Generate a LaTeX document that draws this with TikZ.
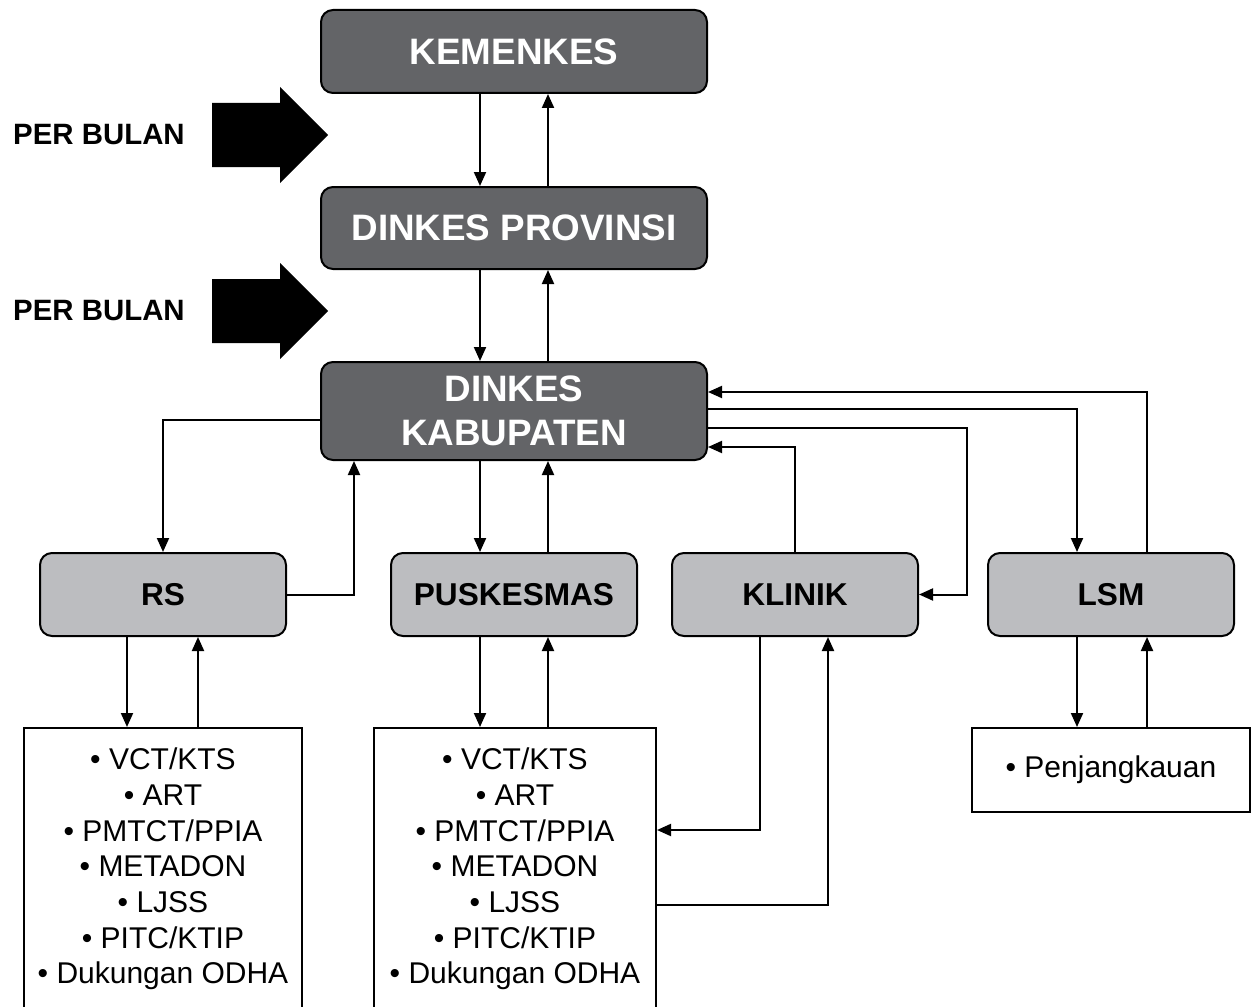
\documentclass[tikz,border=0pt]{standalone}
\usepackage{fontspec}
\setmainfont{Liberation Sans}
\usetikzlibrary{arrows.meta}
\definecolor{gelap}{HTML}{636467}
\definecolor{terang}{HTML}{BCBDC0}
\begin{document}
\begin{tikzpicture}[
  x=0.5pt, y=-0.5pt,
  pusat/.style={draw, line width=1pt, rounded corners=6pt, fill=gelap, text=white, inner sep=0pt,
    minimum width=193pt, align=center, font=\bfseries\fontsize{18.4}{22}\selectfont},
  unitbox/.style={draw, line width=1pt, rounded corners=6pt, fill=terang, inner sep=0pt,
    minimum width=123pt, minimum height=41.5pt, font=\bfseries\fontsize{15.8}{19}\selectfont},
  layanan/.style={draw, line width=1pt, fill=white, inner sep=0pt, align=center,
    font=\fontsize{15}{17.85}\selectfont},
  panah/.style={-{Triangle[length=7pt,width=6pt]}, line width=1pt}
]
  \useasboundingbox (0,0) rectangle (1252,1006);

  % Tingkat pusat, provinsi, kabupaten
  \node[pusat, minimum height=41.5pt] (kemenkes) at (514,51.5) {KEMENKES};
  \node[pusat, minimum height=41pt] (provinsi) at (514,228) {DINKES PROVINSI};
  \node[pusat, minimum height=49pt] (kabupaten) at (514,411) {DINKES\\KABUPATEN};

  % Laporan per bulan
  \foreach \c/\n in {135/a, 311/b} {
    \fill (212,\c-32) -- (280,\c-32) -- (280,\c-48) -- (328,\c) -- (280,\c+48) -- (280,\c+32) -- (212,\c+32) -- cycle;
    \node[font=\bfseries\fontsize{14.7}{17}\selectfont] (bulan\n) at (99,\c) {PER BULAN};
  }

  % Unit layanan
  \node[unitbox] (rs) at (163,594.5) {RS};
  \node[unitbox] (puskesmas) at (514,594.5) {PUSKESMAS};
  \node[unitbox] (klinik) at (795,594.5) {KLINIK};
  \node[unitbox] (lsm) at (1111,594.5) {LSM};

  % Daftar layanan
  \node[layanan, minimum width=139pt, minimum height=141pt] (layananRS) at (163,869)
    {\textbullet\ VCT/KTS\\ \textbullet\ ART\\ \textbullet\ PMTCT/PPIA\\ \textbullet\ METADON\\ \textbullet\ LJSS\\ \textbullet\ PITC/KTIP\\ \textbullet\ Dukungan ODHA};
  \node[layanan, minimum width=141pt, minimum height=141pt] (layananPKM) at (515,869)
    {\textbullet\ VCT/KTS\\ \textbullet\ ART\\ \textbullet\ PMTCT/PPIA\\ \textbullet\ METADON\\ \textbullet\ LJSS\\ \textbullet\ PITC/KTIP\\ \textbullet\ Dukungan ODHA};
  \node[layanan, minimum width=139pt, minimum height=42pt] (layananLSM) at (1111,770)
    {\textbullet\ Penjangkauan};

  % Alur antar tingkat
  \draw[panah] ([xshift=-17pt]kemenkes.south) -- ([xshift=-17pt]provinsi.north);
  \draw[panah] ([xshift=17pt]provinsi.north) -- ([xshift=17pt]kemenkes.south);
  \draw[panah] ([xshift=-17pt]provinsi.south) -- ([xshift=-17pt]kabupaten.north);
  \draw[panah] ([xshift=17pt]kabupaten.north) -- ([xshift=17pt]provinsi.south);

  % Kabupaten ke unit
  \draw[panah] ([yshift=-4.5pt]kabupaten.west) -| (rs.north);
  \draw[panah] (rs.east) -| ([xshift=-80pt]kabupaten.south);
  \draw[panah] ([xshift=-17pt]kabupaten.south) -- ([xshift=-17pt]puskesmas.north);
  \draw[panah] ([xshift=17pt]puskesmas.north) -- ([xshift=17pt]kabupaten.south);
  \draw[panah] (klinik.north) |- ([yshift=-18pt]kabupaten.east);
  \draw[panah] ([yshift=-8.5pt]kabupaten.east) -| ([xshift=24pt]klinik.east) -- (klinik.east);
  \draw[panah] ([yshift=1pt]kabupaten.east) -| ([xshift=-17pt]lsm.north);
  \draw[panah] ([xshift=18pt]lsm.north) |- ([yshift=9.5pt]kabupaten.east);

  % Unit ke layanan
  \draw[panah] ([xshift=-18pt]rs.south) -- ([xshift=-18pt]rs.south |- layananRS.north);
  \draw[panah] ([xshift=17.5pt]rs.south |- layananRS.north) -- ([xshift=17.5pt]rs.south);
  \draw[panah] ([xshift=-17pt]puskesmas.south) -- ([xshift=-17pt]puskesmas.south |- layananPKM.north);
  \draw[panah] ([xshift=17pt]puskesmas.south |- layananPKM.north) -- ([xshift=17pt]puskesmas.south);
  \draw[panah] ([xshift=-17.5pt]klinik.south) |- ([yshift=19.5pt]layananPKM.east);
  \draw[panah] ([yshift=-18pt]layananPKM.east) -| ([xshift=16.5pt]klinik.south);
  \draw[panah] ([xshift=-17pt]lsm.south) -- ([xshift=-17pt]lsm.south |- layananLSM.north);
  \draw[panah] ([xshift=18pt]lsm.south |- layananLSM.north) -- ([xshift=18pt]lsm.south);
\end{tikzpicture}
\end{document}
